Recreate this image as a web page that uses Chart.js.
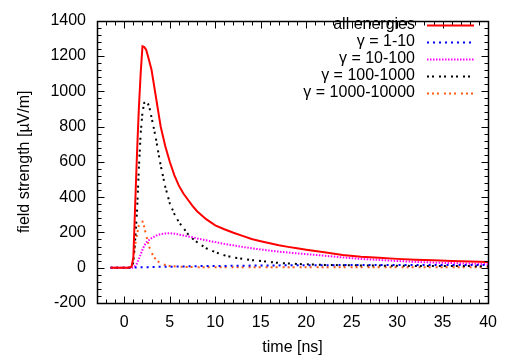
<!DOCTYPE html>
<html><head><meta charset="utf-8">
<script src="https://cdn.jsdelivr.net/npm/chart.js@4/dist/chart.umd.min.js"></script>
<style>html,body{margin:0;padding:0;background:#fff}#wrap{width:507px;height:363px}</style>
</head><body><div id="wrap"><canvas id="c" width="507" height="363"></canvas></div>
<script>
const times = [-1.5,-1,-0.5,0,0.5,0.8,1.0,1.2,1.4,1.6,1.8,2.0,2.2,2.4,2.6,2.8,3.0,3.25,3.5,3.75,4,4.5,5,5.5,6,6.5,7,7.5,8,9,10,11,12,13,14,15,16,17,18,19,20,22,24,26,28,30,32,34,36,38,40];
const allEnergies = [0,0,0,0,0,5,60,360,650,900,1100,1255,1250,1235,1200,1160,1120,1040,960,880,800,690,600,525,465,420,385,350,320,275,240,218,198,180,163,150,138,127,118,110,102,88,72,62,56,50,45,42,38,35,33];
const gamma1_10 = [0,0,0,0,0,0,0,1,1,2,2,3,3,3,3,4,4,4,4,5,5,5,6,6,7,7,8,8,9,9,10,10,11,11,12,12,13,13,14,14,14,14,15,15,15,15,15,15,15,15,15];
const gamma10_100 = [0,0,0,0,0,0,2,10,25,50,75,102,125,142,152,160,168,175,182,186,190,194,195,193,188,183,177,172,166,155,145,135,127,118,110,103,97,91,86,81,77,68,58,50,44,38,33,29,26,23,20];
const gamma100_1000 = [0,0,0,0,0,3,30,160,320,560,760,880,935,945,930,900,850,790,725,650,580,460,365,305,258,225,190,165,145,110,88,70,58,50,43,38,32,27,24,21,19,16,14,13,12,11,10,10,9,9,8];
const gamma1000_10000 = [0,0,0,0,0,10,50,130,190,240,262,262,230,185,145,110,85,62,45,34,25,15,10,8,6,5,4,4,3,3,2,2,2,2,2,2,2,2,2,2,2,2,2,2,2,2,2,2,2,2,2];
const seriesLabels = ['all energies','\u03b3 = 1-10','\u03b3 = 10-100','\u03b3 = 100-1000','\u03b3 = 1000-10000'];
const xTickValues = [0,5,10,15,20,25,30,35,40];

const FAMILY = '"Liberation Sans", Arial, Helvetica, sans-serif';
const pts = arr => times.map((t,i)=>({x:t,y:arr[i]}));
const mk = (label, arr, color, dash, w) => ({label, data: pts(arr), borderColor: color, backgroundColor: color,
  borderWidth: w, borderDash: dash, pointRadius: 0, tension: 0, fill: false, borderCapStyle:'butt'});

const datasets = [
  mk(seriesLabels[0], allEnergies, '#ff0000', [], 2),
  mk(seriesLabels[1], gamma1_10, '#0000ff', [2,4], 2),
  mk(seriesLabels[2], gamma10_100, '#ff00ff', [1.5,1.5], 2),
  mk(seriesLabels[3], gamma100_1000, '#000000', [2,3,2,5], 2),
  mk(seriesLabels[4], gamma1000_10000, '#ff5a14', [2,3,2,3,2,5], 2)
];

const frame = {
  id: 'frame',
  afterDatasetsDraw(chart) {
    const ctx = chart.ctx, a = chart.chartArea, xs = chart.scales.x, ys = chart.scales.y;
    ctx.save();
    ctx.strokeStyle = '#000'; ctx.lineWidth = 1; ctx.setLineDash([]);
    const L = Math.round(a.left)+0.5, R = Math.round(a.right)+0.5, T = Math.round(a.top)+0.5, B = Math.round(a.bottom)+0.5;
    ctx.beginPath();
    for (let v = -3; v <= 40; v += 1) {
      const px = Math.round(xs.getPixelForValue(v)) + 0.5;
      const len = (v % 5 === 0) ? 7 : 4;
      ctx.moveTo(px, B); ctx.lineTo(px, B - len);
      ctx.moveTo(px, T); ctx.lineTo(px, T + len);
    }
    for (let v = -200; v <= 1400; v += 40) {
      const py = Math.round(ys.getPixelForValue(v)) + 0.5;
      const len = (v % 200 === 0) ? 7 : 4;
      ctx.moveTo(L, py); ctx.lineTo(L + len, py);
      ctx.moveTo(R, py); ctx.lineTo(R - len, py);
    }
    ctx.stroke();
    ctx.lineWidth = 1.5;
    ctx.strokeRect(L, T, R - L, B - T);
    ctx.font = '16px ' + FAMILY;
    ctx.fillStyle = '#000';
    ctx.textAlign = 'right'; ctx.textBaseline = 'middle';
    const rows = [25, 42, 59, 76, 93];
    chart.data.datasets.forEach((ds, i) => {
      const y = rows[i];
      ctx.fillText(ds.label, 415, y);
      ctx.beginPath();
      ctx.strokeStyle = ds.borderColor; ctx.lineWidth = ds.borderWidth;
      ctx.setLineDash(ds.borderDash);
      ctx.moveTo(427, y + 0.5); ctx.lineTo(474, y + 0.5);
      ctx.stroke();
    });
    ctx.restore();
  }
};

const tickFont = { family: FAMILY, size: 16 };
new Chart(document.getElementById('c'), {
  type: 'line',
  data: { datasets },
  plugins: [frame],
  options: {
    responsive: false, animation: false, devicePixelRatio: 1,
    layout: { padding: { top: 9, right: 14, left: 0, bottom: 0 } },
    plugins: { legend: { display: false }, tooltip: { enabled: false } },
    scales: {
      x: {
        type: 'linear', min: -3, max: 40,
        afterFit(s) { s.height = 60; },
        afterBuildTicks(s) { s.ticks = xTickValues.map(v => ({ value: v })); },
        grid: { display: false, drawTicks: false }, border: { display: false },
        ticks: { color: '#000', font: tickFont, padding: 10, maxRotation: 0, autoSkip: false, callback: v => String(v) },
        title: { display: true, text: 'time [ns]', color: '#000', font: tickFont, padding: { top: 0, bottom: 6 } }
      },
      y: {
        type: 'linear', min: -200, max: 1400,
        afterFit(s) { s.width = 97; },
        grid: { display: false, drawTicks: false }, border: { display: false },
        ticks: { stepSize: 200, color: '#000', font: tickFont, padding: 11, callback: v => String(v) },
        title: { display: true, text: 'field strength [\u00b5V/m]', color: '#000', font: tickFont, padding: { top: 15, bottom: 0 } }
      }
    }
  }
});
</script></body></html>
